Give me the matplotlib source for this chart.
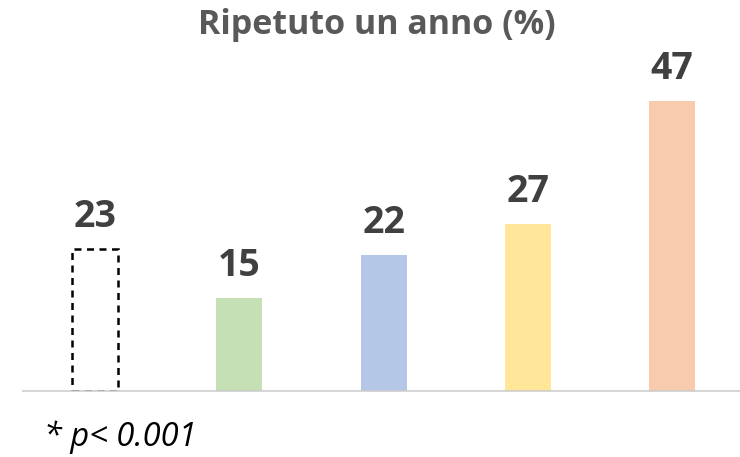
import matplotlib
matplotlib.use("Agg")
import matplotlib.pyplot as plt

plt.rcParams['font.family'] = ['Open Sans', 'DejaVu Sans']

# Data
categories = ["Riferimento", "Gruppo 1", "Gruppo 2", "Gruppo 3", "Gruppo 4"]
values = [23, 15, 22, 27, 47]
colors = ["none", "#C5E0B4", "#B4C7E7", "#FFE699", "#F8CBAD"]
title = "Ripetuto un anno (%)"
footnote = "* p< 0.001"

fig = plt.figure(figsize=(7.4, 4.57), dpi=100)
ax = fig.add_axes([23/740, 66/457, 717/740, 308.5/457])

x = list(range(len(values)))
bars = ax.bar(x, values, width=0.32, color=colors, zorder=2)
# First bar: dashed outline only
bars[0].set_facecolor("none")
bars[0].set_edgecolor("black")
bars[0].set_linewidth(1.8)
bars[0].set_linestyle((0, (2.8, 2.2)))

for xi, v in zip(x, values):
    ax.annotate(str(v), (xi, v), xytext=(0, 16), textcoords="offset points",
                ha="center", va="baseline", fontsize=27, fontweight="bold",
                color="#404040")

ax.set_xlim(-0.5, 4.47)
ax.set_ylim(0, 50)
for s in ["top", "left", "right"]:
    ax.spines[s].set_visible(False)
ax.spines["bottom"].set_color((0.8, 0.8, 0.8, 0.8))
ax.spines["bottom"].set_linewidth(1.5)
ax.spines["bottom"].set_zorder(3)
ax.set_xticks([])
ax.set_yticks([])

fig.text(377/740, 1 - 34/457, title, ha="center", va="baseline",
         fontsize=24.5, fontweight="bold", color="#595959")
fig.text(44/740, 1 - 446/457, footnote, ha="left", va="baseline",
         fontsize=23.5, fontstyle="italic", color="black")

fig.savefig("out.png", dpi=100)
